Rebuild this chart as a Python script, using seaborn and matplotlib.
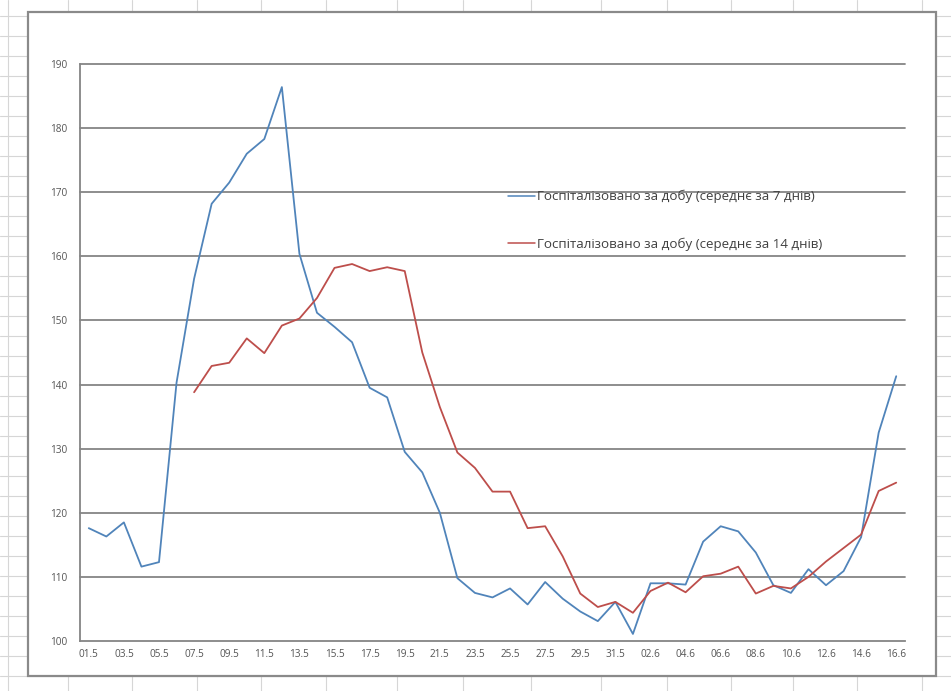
import numpy as np
import pandas as pd
import matplotlib
matplotlib.use("Agg")
import matplotlib.pyplot as plt
from matplotlib.patches import Rectangle
import seaborn as sns

# Daily dates, 1 May - 16 June
dates = [
    "01.5", "02.5", "03.5", "04.5", "05.5", "06.5", "07.5", "08.5", "09.5", "10.5",
    "11.5", "12.5", "13.5", "14.5", "15.5", "16.5", "17.5", "18.5", "19.5", "20.5",
    "21.5", "22.5", "23.5", "24.5", "25.5", "26.5", "27.5", "28.5", "29.5", "30.5",
    "31.5", "01.6", "02.6", "03.6", "04.6", "05.6", "06.6", "07.6", "08.6", "09.6",
    "10.6", "11.6", "12.6", "13.6", "14.6", "15.6", "16.6",
]

# Hospitalised per day, 7-day average
hosp_7 = [
    117.6, 116.3, 118.5, 111.6, 112.3, 140.3, 156.5, 168.2, 171.5, 176.0,
    178.3, 186.4, 160.4, 151.2, 149.0, 146.6, 139.5, 138.0, 129.5, 126.3,
    120.0, 109.8, 107.5, 106.8, 108.2, 105.7, 109.2, 106.6, 104.6, 103.1,
    106.1, 101.1, 109.0, 109.0, 108.8, 115.5, 117.9, 117.1, 113.8, 108.7,
    107.5, 111.2, 108.7, 110.9, 116.2, 132.5, 141.3,
]

# Hospitalised per day, 14-day average (starts on 07.5)
hosp_14 = [
    np.nan, np.nan, np.nan, np.nan, np.nan, np.nan, 138.8, 142.9, 143.4, 147.2,
    144.9, 149.2, 150.3, 153.5, 158.2, 158.8, 157.7, 158.3, 157.7, 145.0,
    136.5, 129.4, 127.0, 123.3, 123.3, 117.6, 117.9, 113.2, 107.4, 105.3,
    106.1, 104.4, 107.8, 109.1, 107.6, 110.1, 110.5, 111.6, 107.4, 108.6,
    108.2, 110.0, 112.4, 114.5, 116.6, 123.4, 124.7,
]

label_7 = "Госпіталізовано за добу (середнє за 7 днів)"
label_14 = "Госпіталізовано за добу (середнє за 14 днів)"

y_ticks = [100, 110, 120, 130, 140, 150, 160, 170, 180, 190]

sns.set_style("white")
plt.rcParams["font.family"] = ["Open Sans", "DejaVu Sans"]

W, H = 951, 691
fig = plt.figure(figsize=(W / 100, H / 100), dpi=100)

# Worksheet cells behind the chart object
bg = fig.add_axes([0, 0, 1, 1], zorder=0)
bg.set_xlim(0, W)
bg.set_ylim(H, 0)
bg.axis("off")
for yy in np.arange(15.5, H, 20):
    bg.axhline(yy, color="#d6d6d6", lw=0.8, zorder=1)
for xx in [8, 68, 132, 197, 261, 326, 397, 463, 531, 601, 667, 731, 793, 857, 922]:
    bg.axvline(xx, color="#d6d6d6", lw=0.8, zorder=1)
bg.add_patch(Rectangle((28, 12), 908, 664, facecolor="white",
                       edgecolor="#8a8a8a", lw=1.6, zorder=5))

# Plot area
left, right, top, bottom = 80, 905, 64, 641
ax = fig.add_axes([left / W, 1 - bottom / H, (right - left) / W, (bottom - top) / H],
                  zorder=2)
ax.set_facecolor("none")

df = pd.DataFrame({
    "pos": np.arange(len(dates)),
    "date": dates,
    "avg7": hosp_7,
    "avg14": hosp_14,
})

blue = "#5084ba"
red = "#bd4e4b"
sns.lineplot(data=df, x="pos", y="avg7", ax=ax, color=blue, lw=1.3, label=label_7)
sns.lineplot(data=df.dropna(), x="pos", y="avg14", ax=ax, color=red, lw=1.3,
             label=label_14)

n = len(dates)
ax.set_xlim(-0.5, n - 0.5)
ax.set_ylim(100, 190)
ax.set_xlabel("")
ax.set_ylabel("")

grid_c = "#858585"
ax.set_yticks(y_ticks)
ax.set_yticklabels([str(v) for v in y_ticks])
for v in y_ticks[1:]:
    ax.axhline(v, color=grid_c, lw=1.3, zorder=0.5, clip_on=False)

# Tick marks between categories, labels centred on every second date
ax.set_xticks(np.arange(-0.5, n - 1, 2))
ax.set_xticklabels([])
ax.set_xticks(np.arange(0, n, 2), minor=True)
ax.set_xticklabels(dates[::2], minor=True)
ax.tick_params(axis="x", which="major", length=5, width=1, color=grid_c, direction="out")
ax.tick_params(axis="x", which="minor", length=0, pad=6, labelsize=7.2, labelcolor="#555555")
ax.tick_params(axis="y", length=5, width=1, color=grid_c, direction="out",
               labelsize=7.2, labelcolor="#555555", pad=4)

for side in ["top", "right"]:
    ax.spines[side].set_visible(False)
for side in ["left", "bottom"]:
    ax.spines[side].set_color(grid_c)
    ax.spines[side].set_linewidth(1.3)

leg = ax.legend(loc="upper left", bbox_to_anchor=(508 / W, 1 - 190 / H),
                bbox_transform=fig.transFigure, frameon=False, borderpad=0,
                borderaxespad=0, fontsize=9.6, handlelength=2.0,
                handletextpad=0.15, labelspacing=2.55)
for t in leg.get_texts():
    t.set_color("#404040")
for h in leg.get_lines():
    h.set_linewidth(1.1)

fig.savefig("out.png", dpi=100)
